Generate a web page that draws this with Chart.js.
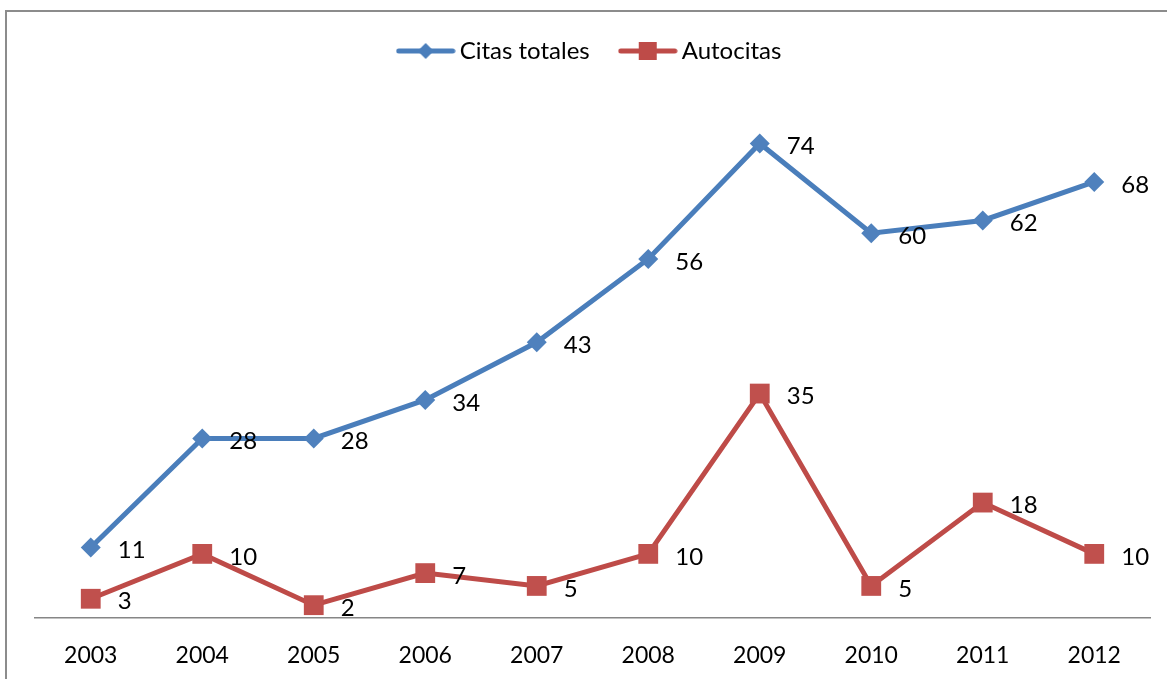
<!DOCTYPE html>
<html>
<head>
<meta charset="utf-8">
<script src="https://cdn.jsdelivr.net/npm/chart.js@4.4.0/dist/chart.umd.min.js"></script>
<style>
  html, body { margin: 0; padding: 0; background: #fff; overflow: hidden; }
  #frame { position: absolute; left: 5px; top: 10px; width: 1180px; height: 700px; border: 2px solid #8c8c8c; }
  #wrap { position: absolute; left: 0; top: 0; width: 1167px; height: 679px; }
</style>
</head>
<body>
<div id="frame"></div>
<div id="wrap"><canvas id="chart"></canvas></div>
<script>
var years = ["2003", "2004", "2005", "2006", "2007", "2008", "2009", "2010", "2011", "2012"];
var citas_totales = [11, 28, 28, 34, 43, 56, 74, 60, 62, 68];
var autocitas = [3, 10, 2, 7, 5, 10, 35, 5, 18, 10];

var blue = "#4a7ebb";
var red = "#be4b48";

// little picture for the legend : line with the marker in the middle
function legendIcon(color, shape) {
    var c = document.createElement("canvas");
    c.width = 60;
    c.height = 22;
    var g = c.getContext("2d");
    g.strokeStyle = color;
    g.lineWidth = 5;
    g.lineCap = "round";
    g.beginPath();
    g.moveTo(3, 11);
    g.lineTo(57, 11);
    g.stroke();
    g.fillStyle = color;
    g.beginPath();
    if (shape == "diamond") {
        g.moveTo(30, 3);
        g.lineTo(38, 11);
        g.lineTo(30, 19);
        g.lineTo(22, 11);
    } else {
        g.rect(21, 2, 18, 18);
    }
    g.closePath();
    g.fill();
    return c;
}

var icons = [legendIcon(blue, "diamond"), legendIcon(red, "square")];

var valueLabels = {
    id: "valueLabels",
    afterDatasetsDraw: function (chart) {
        var ctx = chart.ctx;
        ctx.save();
        ctx.font = "24px Lato";
        ctx.fillStyle = "#000";
        ctx.textAlign = "left";
        ctx.textBaseline = "middle";
        chart.data.datasets.forEach(function (ds, i) {
            chart.getDatasetMeta(i).data.forEach(function (pt, j) {
                ctx.fillText(ds.data[j], pt.x + 27, pt.y + 3);
            });
        });
        ctx.restore();
    }
};

var legendGap = {
    id: "legendGap",
    beforeInit: function (chart) {
        var fit = chart.legend.fit;
        chart.legend.fit = function () {
            fit.bind(chart.legend)();
            this.height = 102;
        };
    }
};

var data = {
    labels: years,
    datasets: [
        {
            label: "Citas totales",
            data: citas_totales,
            borderColor: blue,
            backgroundColor: "#4f81bd",
            borderWidth: 5,
            pointStyle: "rectRot",
            pointRadius: 10,
            pointHoverRadius: 10,
            pointBorderWidth: 0,
            tension: 0
        },
        {
            label: "Autocitas",
            data: autocitas,
            borderColor: red,
            backgroundColor: "#c0504d",
            borderWidth: 5,
            pointStyle: "rect",
            pointRadius: 14,
            pointHoverRadius: 14,
            pointBorderWidth: 0,
            tension: 0
        }
    ]
};

var options = {
    responsive: true,
    maintainAspectRatio: false,
    animation: false,
    layout: { padding: { left: 35, right: 17, top: 3, bottom: 0 } },
    plugins: {
        legend: {
            position: "top",
            labels: {
                usePointStyle: true,
                pointStyleWidth: 44,
                padding: 36,
                color: "#000",
                font: { family: "Lato", size: 24 },
                generateLabels: function (chart) {
                    var items = Chart.defaults.plugins.legend.labels.generateLabels(chart);
                    items.forEach(function (it, k) { it.pointStyle = icons[k]; });
                    return items;
                }
            }
        },
        tooltip: { enabled: false }
    },
    scales: {
        x: {
            offset: true,
            grid: { display: false, drawTicks: false },
            border: { display: true, color: "#868686", width: 1.5 },
            ticks: { color: "#000", font: { family: "Lato", size: 23 }, padding: 24 },
            afterFit: function (scale) { scale.height = 61; }
        },
        y: {
            display: false,
            min: 0,
            max: 80
        }
    }
};

var ctx = document.getElementById("chart").getContext("2d");
var chart = new Chart(ctx, { type: "line", data: data, options: options, plugins: [valueLabels, legendGap] });
</script>
</body>
</html>
